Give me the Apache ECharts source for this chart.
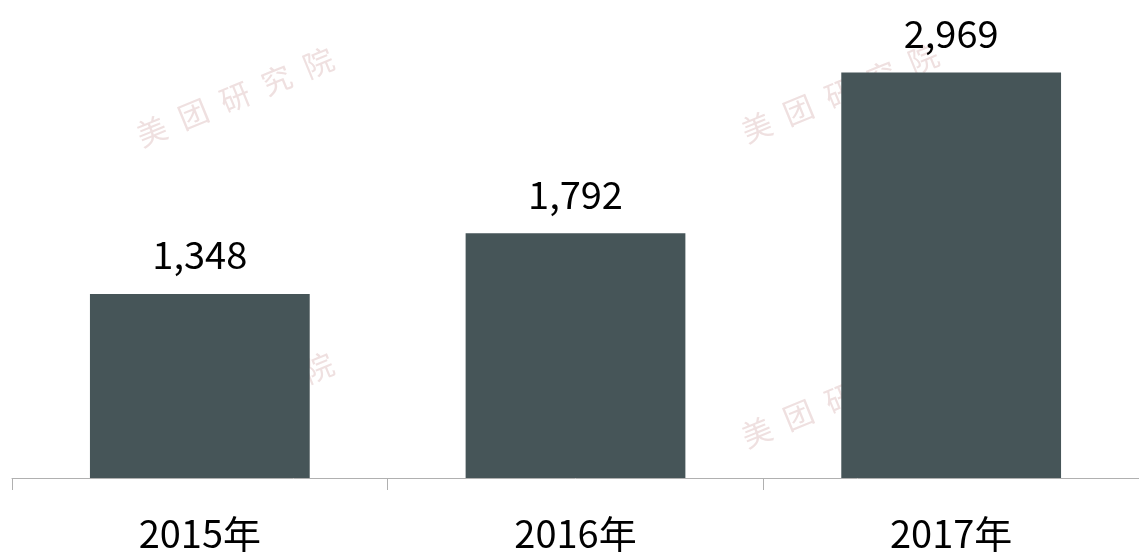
<!DOCTYPE html>
<html>
<head>
  <meta charset="utf-8">
  <title></title>
  <script src="https://cdn.jsdelivr.net/npm/echarts@6/dist/echarts.min.js"></script>
  <style>
    html, body {
      margin: 0;
      padding: 0;
      background: #fff;
    }

    #main {
      width: 1139px;
      height: 558px;
    }
  </style>
</head>
<body>
<div id="main"></div>
<script>
  // 数据
  var years = ['2015年', '2016年', '2017年'];
  var values = [1348, 1792, 2969];

  // 水印位置
  var markPos = [[235, 97], [840, 93], [235, 402], [840, 398]];

  function fmt(n) {
    return String(n).replace(/\B(?=(\d{3})+(?!\d))/g, ',');
  }

  var chart = echarts.init(document.getElementById('main'));

  var marks = [];
  for (var i = 0; i < markPos.length; i++) {
    marks.push({
      type: 'text',
      x: markPos[i][0],
      y: markPos[i][1],
      rotation: 0.39,
      z: -10,
      style: {
        text: '美\u2002团\u2002研\u2002究\u2002院',
        fill: '#efe0e0',
        font: '30px "Noto Sans CJK SC"',
        align: 'center',
        verticalAlign: 'middle'
      }
    });
  }

  var option = {
    animation: false,
    graphic: marks,
    grid: {
      left: 12,
      right: -1,
      top: 0,
      bottom: 80
    },
    xAxis: {
      type: 'category',
      data: years,
      axisLine: {
        lineStyle: {color: '#b0b0b0', width: 1}
      },
      axisTick: {
        show: true,
        length: 12,
        lineStyle: {color: '#b0b0b0'}
      },
      axisLabel: {
        margin: 37,
        color: '#000',
        fontSize: 38,
        fontFamily: 'Noto Sans CJK SC'
      }
    },
    yAxis: {
      type: 'value',
      min: 0,
      max: 3500,
      show: false,
      splitLine: {show: false}
    },
    series: [{
      type: 'bar',
      data: values,
      barWidth: '58.5%',
      itemStyle: {color: '#465558'},
      label: {
        show: true,
        position: 'top',
        distance: 20,
        color: '#000',
        fontSize: 38,
        fontFamily: 'Noto Sans CJK SC',
        formatter: function (p) {
          return fmt(p.value);
        }
      }
    }]
  };

  chart.setOption(option);
</script>
</body>
</html>
